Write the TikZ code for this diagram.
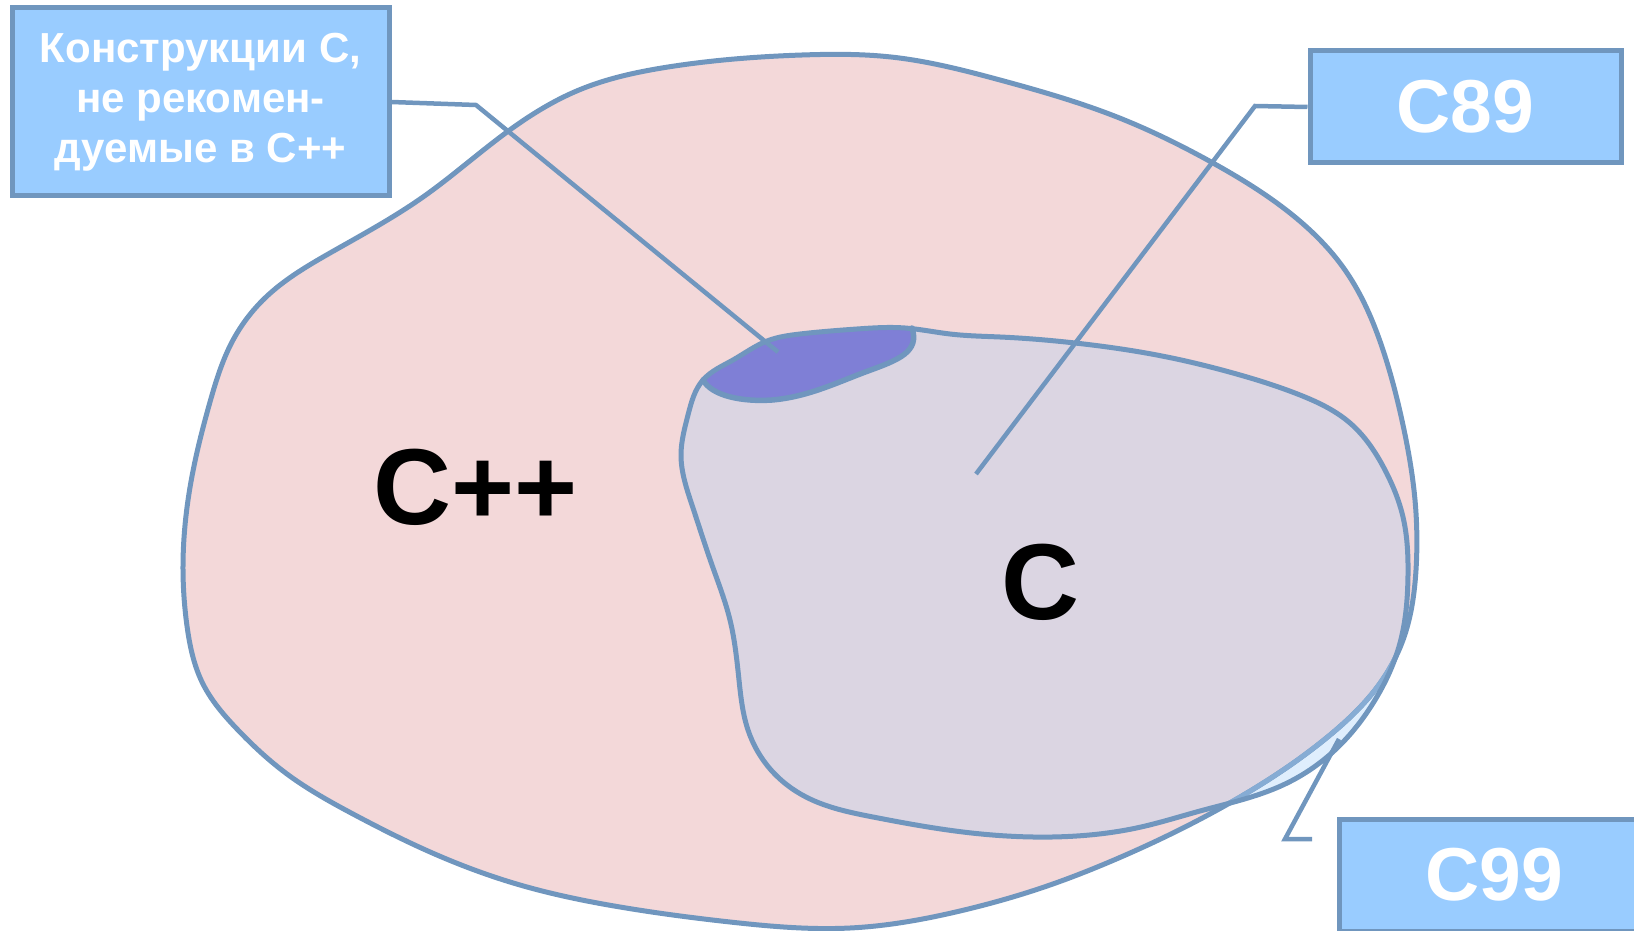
\documentclass[tikz,border=0pt]{standalone}
\usepackage{fontspec}
\setmainfont{Liberation Sans}
\IfFileExists{tikzlibraryhobby.code.tex}{\usetikzlibrary{hobby}\tikzset{blob/.style={closed hobby}}}{\tikzset{blob/.style={smooth cycle, tension=0.55}}}
\definecolor{edge}{HTML}{7096BE}
\definecolor{edgelight}{HTML}{86ACD4}
\definecolor{cppfill}{HTML}{F3D8D9}
\definecolor{cfill}{HTML}{DFEEFD}
\definecolor{capfill}{HTML}{DBD5E2}
\definecolor{purp}{HTML}{7F7FD6}
\definecolor{boxfill}{HTML}{99CCFF}
\tikzset{
  outline/.style={draw=edge, line width=5pt, line join=round},
  conn/.style={draw=edge, line width=4.5pt},
  callout/.style={draw=edge, fill=boxfill, line width=5pt, text=white, inner sep=0pt, align=center, minimum width=311pt, minimum height=112pt},
  biglabel/.style={font=\fontsize{108}{120}\selectfont\bfseries, inner sep=0pt, text=black},
}
\def\cpppath{plot[blob] coordinates {(183,565) (193,471) (210,402) (232,342) (265,298) (330,253) (423,197) (507,132) (579,90) (668,67) (802,55) (891,57) (1000,80) (1117,117) (1213,163) (1290,213) (1345,270) (1383,350) (1403,425) (1415,500) (1416,570) (1403,640) (1375,690) (1330,735) (1228,804) (1114,860) (1050,885) (960,911) (850,928) (730,922) (620,907) (520,885) (437,855) (353,814) (287,774) (237,729) (203,684) (187,626)}}
\def\cpath{plot[blob] coordinates {(703,380) (733,360) (767,341) (800,334) (857,329) (905,328) (950,334) (1000,337) (1075,343) (1167,357) (1233,373) (1300,395) (1350,423) (1385,470) (1403,517) (1408,575) (1400,643) (1375,700) (1335,750) (1283,785) (1200,811) (1141,827) (1052,837) (963,832) (873,817) (806,797) (771,770) (748,730) (739,680) (730,620) (712,565) (692,505) (681,455) (688,415)}}
\def\pbottom{(703,380) .. controls (712,396) and (742,402) .. (772,400) .. controls (808,397) and (838,382) .. (868,371) .. controls (898,360) and (920,352) .. (912,328)}
\begin{document}
\begin{tikzpicture}[x=1pt,y=-1pt]
\useasboundingbox (0,0) rectangle (1634,931);
\fill[cppfill] \cpppath;
\fill[cfill] \cpath;
\begin{scope}
  \clip \cpppath;
  \fill[capfill] \cpath;
\end{scope}
\draw[outline] \cpppath;
\begin{scope}
  \clip \cpath;
  \draw[outline, draw=edgelight] \cpppath;
\end{scope}
\begin{scope}
  \clip \cpath;
  \fill[purp] \pbottom -- (930,300) -- (690,300) -- cycle;
\end{scope}
\draw[outline] \cpath;
\draw[outline, line width=5.5pt, line cap=round] \pbottom;

\node[biglabel] (cpp) at (476,487) {C++};
\node[biglabel] (c) at (1040,582) {C};

\node[callout, minimum width=377pt, minimum height=188pt, font=\fontsize{42}{50}\selectfont\bfseries] (nr) at (200.5,102) {Конструкции C,\\не рекомен-\\дуемые в C++};
\node[callout, font=\fontsize{75}{80}\selectfont\bfseries] (c89) at (1465.5,107) {C89};
\node[callout, font=\fontsize{75}{80}\selectfont\bfseries] (c99) at (1494.5,875) {C99};

\coordinate (k1) at (476,105);
\coordinate (e1) at (778,352);
\draw[conn] (nr.east) -- (k1) -- (e1);
\coordinate (k2) at (1255,106);
\coordinate (e2) at (976,474);
\draw[conn] (c89.west) -- (k2) -- (e2);
\coordinate (e3) at (1339,739);
\coordinate (k3) at (1285,839);
\coordinate (t3) at (1312,839);
\draw[conn] (e3) -- (k3) -- (t3);
\end{tikzpicture}
\end{document}
